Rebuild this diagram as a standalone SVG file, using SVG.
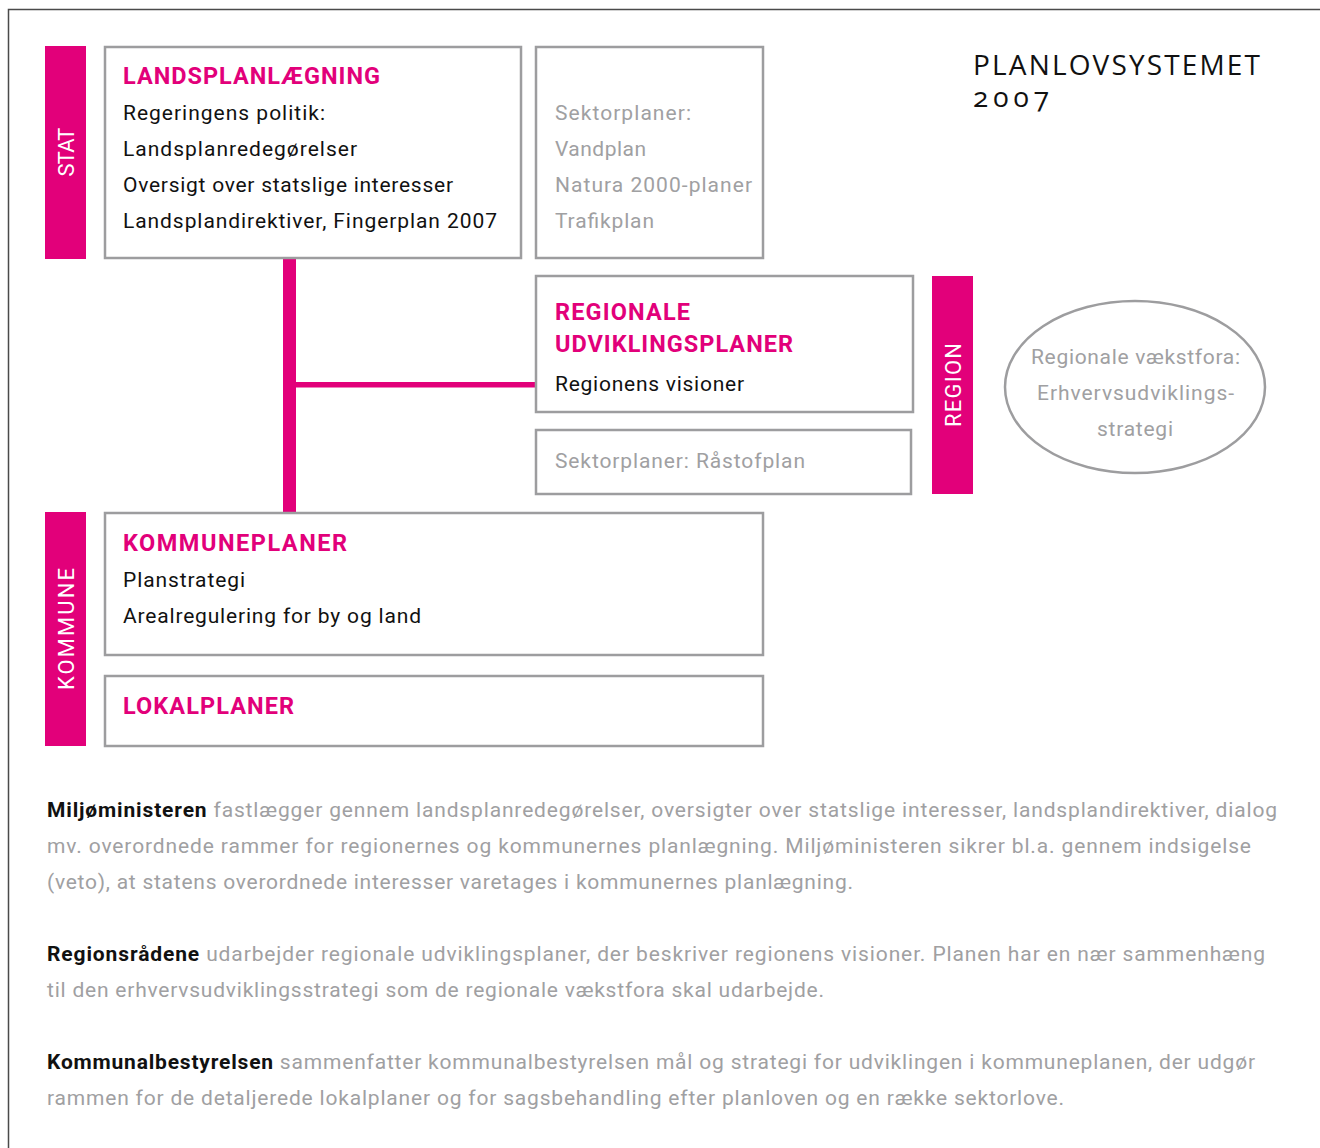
<svg xmlns="http://www.w3.org/2000/svg" width="1320" height="1148" viewBox="0 0 1320 1148">
<style>
.frame{fill:none;stroke:#4a4a4a;stroke-width:1.5}
.box{fill:#fff;stroke:#9d9d9f;stroke-width:2.5}
.bar{fill:#e2007a}
.conn{fill:#e2007a}
.ell{fill:#fff;stroke:#9d9d9f;stroke-width:2.5}
text{font-family:Roboto,"Liberation Sans",sans-serif}
.h{font-size:23.5px;font-weight:bold;fill:#e2007a}
.b{font-size:21px;fill:#111}
.g{font-size:21px;fill:#a0a0a2}
.lbl{font-size:22px;fill:#fff;text-anchor:middle}
.title{font-family:"Open Sans",Lato,sans-serif;font-size:28px;fill:#111;font-variant-numeric:oldstyle-nums}
.p{font-size:21px;fill:#a0a0a2}
.p tspan.k{font-weight:bold;fill:#111}
</style>
<rect class="frame" x="8.5" y="9.5" width="1330" height="1160"/>
<g id="connectors">
<rect class="conn" x="283" y="257" width="13" height="257"/>
<rect class="conn" x="295" y="382" width="241" height="5.5"/>
</g>
<g id="stat-bar">
<rect class="bar" x="45" y="46" width="41" height="213"/>
<text class="lbl" transform="translate(74,152) rotate(-90)" textLength="49">STAT</text>
</g>
<g id="landsplan">
<rect class="box" x="105" y="47" width="416" height="211"/>
<text class="h" x="123" y="84" textLength="257">LANDSPLANLÆGNING</text>
<text class="b" x="123" y="120" textLength="202">Regeringens politik:</text>
<text class="b" x="123" y="156" textLength="234">Landsplanredegørelser</text>
<text class="b" x="123" y="192" textLength="330">Oversigt over statslige interesser</text>
<text class="b" x="123" y="228" textLength="374">Landsplandirektiver, Fingerplan 2007</text>
</g>
<g id="sektor-stat">
<rect class="box" x="536" y="47" width="227" height="211"/>
<text class="g" x="555" y="120" textLength="136">Sektorplaner:</text>
<text class="g" x="555" y="156" textLength="91">Vandplan</text>
<text class="g" x="555" y="192" textLength="197">Natura 2000-planer</text>
<text class="g" x="555" y="228" textLength="99">Trafikplan</text>
</g>
<g id="title">
<text class="title" x="973" y="75" textLength="287">PLANLOVSYSTEMET</text>
<text class="title" x="973" y="107" textLength="76">2007</text>
</g>
<g id="regionale">
<rect class="box" x="536" y="276" width="377" height="136"/>
<text class="h" x="555" y="320" textLength="135">REGIONALE</text>
<text class="h" x="555" y="352" textLength="238">UDVIKLINGSPLANER</text>
<text class="b" x="555" y="391" textLength="189">Regionens visioner</text>
</g>
<g id="sektor-region">
<rect class="box" x="536" y="430" width="375" height="64"/>
<text class="g" x="555" y="468" textLength="250">Sektorplaner: Råstofplan</text>
</g>
<g id="region-bar">
<rect class="bar" x="932" y="276" width="41" height="218"/>
<text class="lbl" transform="translate(961,385) rotate(-90)" textLength="84">REGION</text>
</g>
<g id="vaekstfora">
<ellipse class="ell" cx="1135" cy="387" rx="130" ry="86"/>
<text class="g" x="1031" y="364" textLength="209">Regionale vækstfora:</text>
<text class="g" x="1037" y="400" textLength="197">Erhvervsudviklings-</text>
<text class="g" x="1097" y="436" textLength="76">strategi</text>
</g>
<g id="kommune-bar">
<rect class="bar" x="45" y="512" width="41" height="234"/>
<text class="lbl" transform="translate(74,629) rotate(-90)" textLength="122">KOMMUNE</text>
</g>
<g id="kommuneplaner">
<rect class="box" x="105" y="513" width="658" height="142"/>
<text class="h" x="123" y="551" textLength="224">KOMMUNEPLANER</text>
<text class="b" x="123" y="587" textLength="122">Planstrategi</text>
<text class="b" x="123" y="623" textLength="298">Arealregulering for by og land</text>
</g>
<g id="lokalplaner">
<rect class="box" x="105" y="676" width="658" height="70"/>
<text class="h" x="123" y="714" textLength="171">LOKALPLANER</text>
</g>
<g id="text">
<text class="p" x="47" y="817" textLength="1230"><tspan class="k">Miljøministeren</tspan> fastlægger gennem landsplanredegørelser, oversigter over statslige interesser, landsplandirektiver, dialog</text>
<text class="p" x="47" y="853" textLength="1204">mv. overordnede rammer for regionernes og kommunernes planlægning. Miljøministeren sikrer bl.a. gennem indsigelse</text>
<text class="p" x="47" y="889" textLength="806">(veto), at statens overordnede interesser varetages i kommunernes planlægning.</text>
<text class="p" x="47" y="961" textLength="1218"><tspan class="k">Regionsrådene</tspan> udarbejder regionale udviklingsplaner, der beskriver regionens visioner. Planen har en nær sammenhæng</text>
<text class="p" x="47" y="997" textLength="777">til den erhvervsudviklingsstrategi som de regionale vækstfora skal udarbejde.</text>
<text class="p" x="47" y="1069" textLength="1208"><tspan class="k">Kommunalbestyrelsen</tspan> sammenfatter kommunalbestyrelsen mål og strategi for udviklingen i kommuneplanen, der udgør</text>
<text class="p" x="47" y="1105" textLength="1017">rammen for de detaljerede lokalplaner og for sagsbehandling efter planloven og en række sektorlove.</text>
</g>
</svg>
